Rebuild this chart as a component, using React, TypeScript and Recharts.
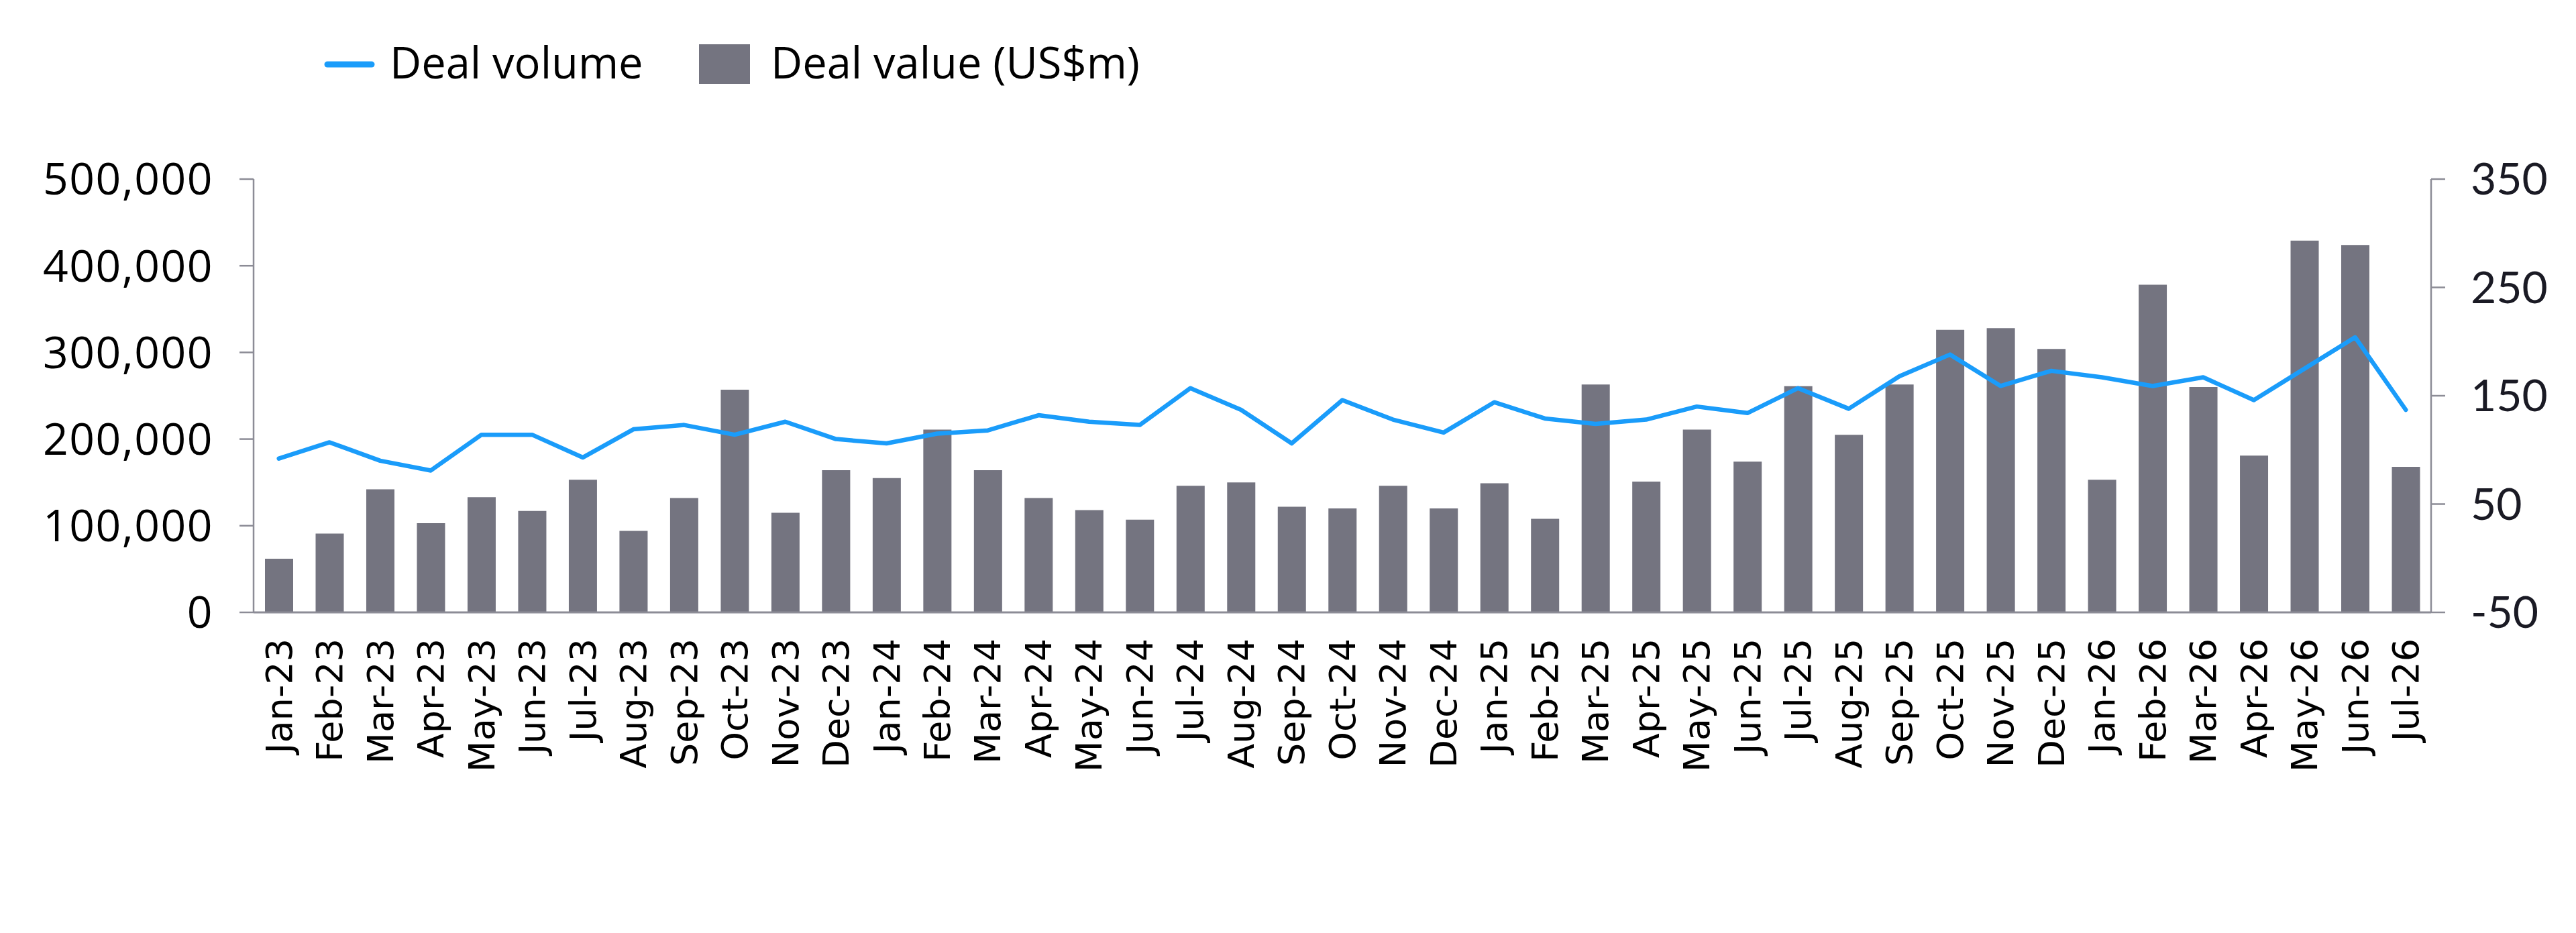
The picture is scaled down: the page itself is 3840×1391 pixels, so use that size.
import React from 'react';
import { ComposedChart, Bar, Line, XAxis, YAxis, Legend } from 'recharts';

const months = [
  'Jan-23', 'Feb-23', 'Mar-23', 'Apr-23', 'May-23', 'Jun-23', 'Jul-23', 'Aug-23', 'Sep-23', 'Oct-23', 'Nov-23', 'Dec-23',
  'Jan-24', 'Feb-24', 'Mar-24', 'Apr-24', 'May-24', 'Jun-24', 'Jul-24', 'Aug-24', 'Sep-24', 'Oct-24', 'Nov-24', 'Dec-24',
  'Jan-25', 'Feb-25', 'Mar-25', 'Apr-25', 'May-25', 'Jun-25', 'Jul-25', 'Aug-25', 'Sep-25', 'Oct-25', 'Nov-25', 'Dec-25',
  'Jan-26', 'Feb-26', 'Mar-26', 'Apr-26', 'May-26', 'Jun-26', 'Jul-26',
];

// Deal value (US$m) – left axis, bars
const dealValue = [
  62000, 91000, 142000, 103000, 133000, 117000, 153000, 94000, 132000, 257000, 115000, 164000,
  155000, 211000, 164000, 132000, 118000, 107000, 146000, 150000, 122000, 120000, 146000, 120000,
  149000, 108000, 263000, 151000, 211000, 174000, 261000, 205000, 263000, 326000, 328000, 304000,
  153000, 378000, 260000, 181000, 429000, 424000, 168000,
];

// Deal volume – right axis, line
const dealVolume = [
  92, 107, 90, 81, 114, 114, 93, 119, 123, 114, 126, 110,
  106, 115, 118, 132, 126, 123, 157, 137, 106, 146, 128, 116,
  144, 129, 124, 128, 140, 134, 157, 138, 168, 188, 159, 173,
  167, 159, 167, 146, 175, 204, 137,
];

const leftTicks = [0, 100000, 200000, 300000, 400000, 500000];
const rightTicks = [-50, 50, 150, 250, 350];

const data = months.map((m, i) => ({ month: m, value: dealValue[i], volume: dealVolume[i] }));

const AXIS_COLOR = '#8c8c96';
const BAR_COLOR = '#747480';
const LINE_COLOR = '#1a9cfa';

function MonthTick(props: any) {
  const { x, y, payload } = props;
  return (
    <g transform={`translate(${x},${y})`}>
      <text
        transform="rotate(-90)"
        textAnchor="end"
        dy="0.35em"
        fontFamily="DejaVu Sans"
        fontSize={54}
        fill="#000"
      >
        {payload.value}
      </text>
    </g>
  );
}

function LegendContent(props: any) {
  const payload: any[] = props.payload || [];
  const lineItem = payload.find((p) => p.dataKey === 'volume');
  const barItem = payload.find((p) => p.dataKey === 'value');
  return (
    <svg width={3840} height={200} style={{ display: 'block' }}>
      <line x1={488} y1={96} x2={554} y2={96} stroke={LINE_COLOR} strokeWidth={9} strokeLinecap="round" />
      <text x={581} y={117} fontFamily="Open Sans" fontSize={65} fill="#000">
        {lineItem ? lineItem.value : 'Deal volume'}
      </text>
      <rect x={1042} y={66} width={76} height={59} fill={BAR_COLOR} />
      <text x={1149} y={117} fontFamily="Open Sans" fontSize={65} fill="#000">
        {barItem ? barItem.value : 'Deal value (US$m)'}
      </text>
    </svg>
  );
}

export default function App() {
  return (
    <div style={{ position: 'absolute', left: 0, top: 0, width: 3840, height: 1391, background: '#fff' }}>
      <ComposedChart
        width={3840}
        height={1391}
        data={data}
        margin={{ top: 267, right: 0, bottom: 0, left: 0 }}
      >
        <XAxis
          dataKey="month"
          height={478}
          interval={0}
          tickLine={false}
          tickSize={0}
          tickMargin={39}
          axisLine={{ stroke: AXIS_COLOR, strokeWidth: 3 }}
          tick={<MonthTick />}
        />
        <YAxis
          yAxisId="left"
          orientation="left"
          width={378}
          domain={[0, 500000]}
          ticks={leftTicks}
          interval={0}
          tickSize={21}
          tickMargin={39}
          tickLine={{ stroke: AXIS_COLOR, strokeWidth: 2.5 }}
          axisLine={{ stroke: AXIS_COLOR, strokeWidth: 2.5 }}
          tickFormatter={(v: number) => v.toLocaleString('en-US')}
          tick={{ fontFamily: 'Open Sans', fontSize: 66, fill: '#000', letterSpacing: 1.5 }}
        />
        <YAxis
          yAxisId="right"
          orientation="right"
          width={216}
          domain={[-50, 350]}
          ticks={rightTicks}
          interval={0}
          tickSize={21}
          tickMargin={38}
          tickLine={{ stroke: AXIS_COLOR, strokeWidth: 2.5 }}
          axisLine={{ stroke: AXIS_COLOR, strokeWidth: 2.5 }}
          tick={{ fontFamily: 'Lato', fontSize: 66, fill: '#1a1a24' }}
        />
        <Legend
          layout="horizontal"
          verticalAlign="middle"
          align="center"
          wrapperStyle={{ top: 0, left: 0, width: 3840, height: 200, margin: 0, padding: 0 }}
          content={LegendContent}
        />
        <Bar
          yAxisId="left"
          dataKey="value"
          name="Deal value (US$m)"
          fill={BAR_COLOR}
          barSize={42}
          isAnimationActive={false}
        />
        <Line
          yAxisId="right"
          type="linear"
          dataKey="volume"
          name="Deal volume"
          stroke={LINE_COLOR}
          strokeWidth={6.5}
          strokeLinejoin="round"
          strokeLinecap="round"
          dot={false}
          activeDot={false}
          isAnimationActive={false}
        />
      </ComposedChart>
    </div>
  );
}
